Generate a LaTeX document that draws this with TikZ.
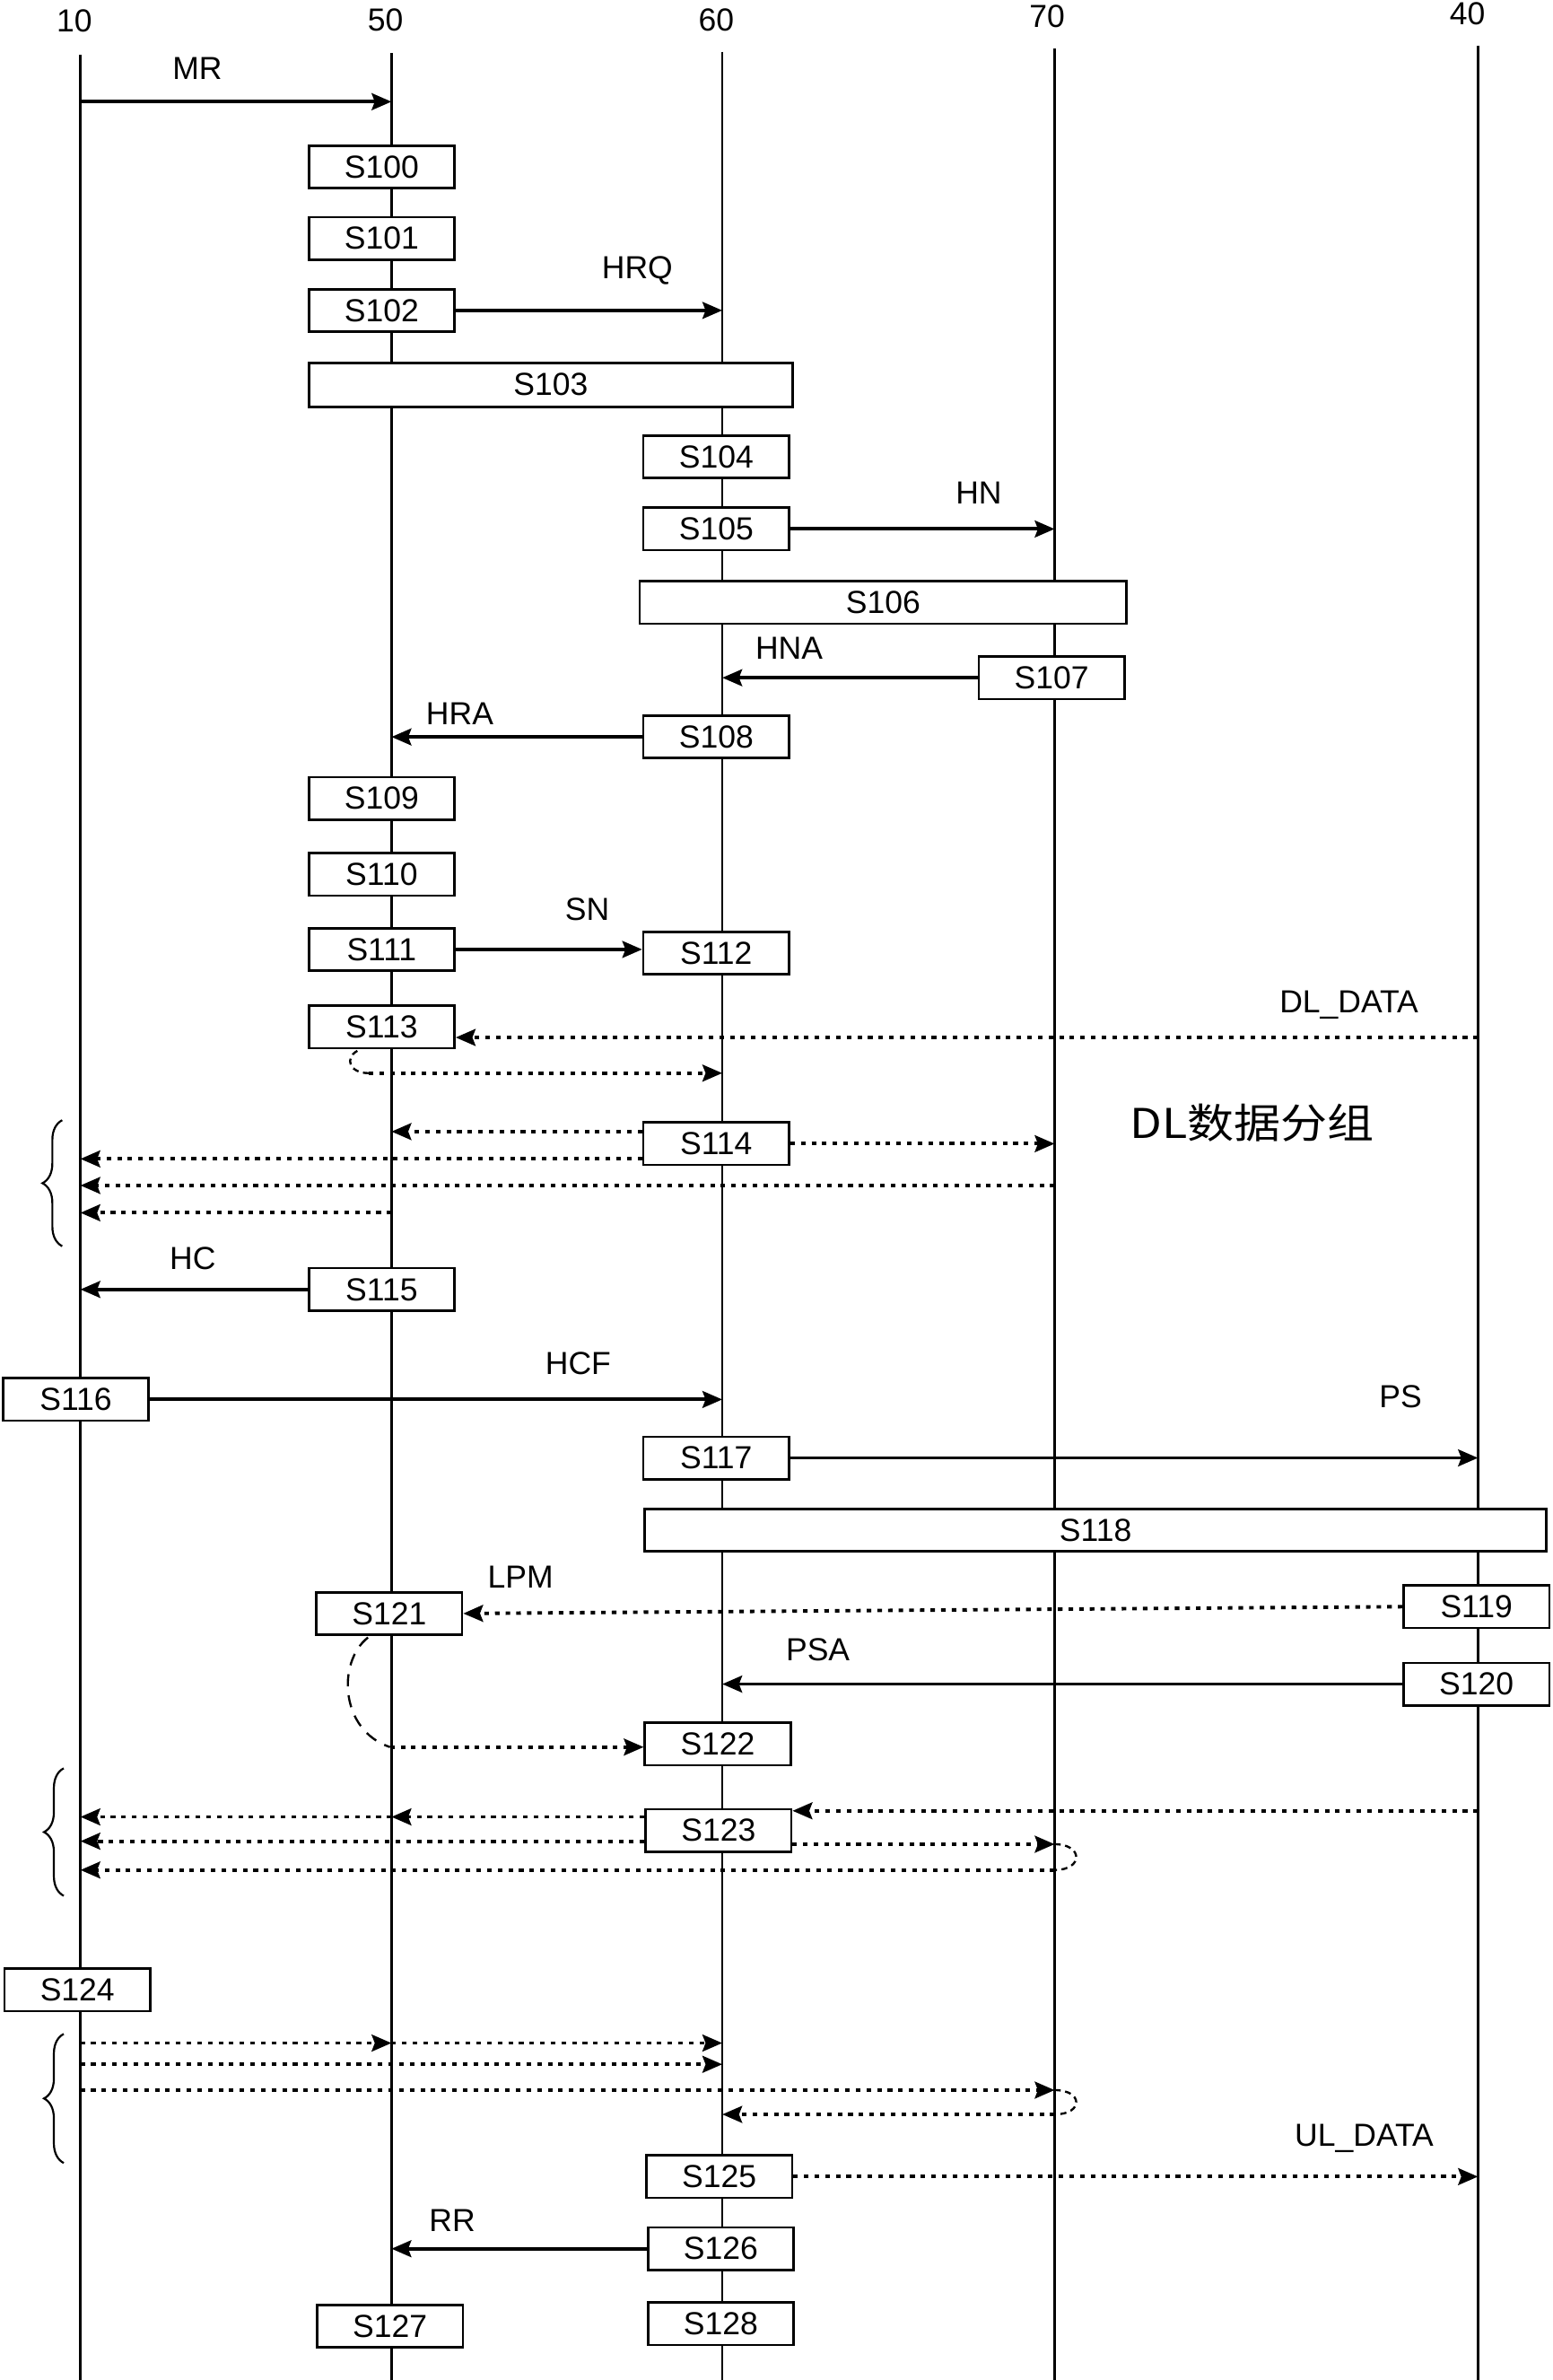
\documentclass[tikz,border=0pt]{standalone}
\usepackage{fontspec}
\setmainfont{Liberation Sans}
\newfontfamily\cjkfont{Noto Sans CJK SC}
\usetikzlibrary{arrows.meta,calc,decorations.pathreplacing}
\begin{document}
\begin{tikzpicture}[x=1pt,y=-1pt,
 life/.style={line width=1.4pt},
 box/.style={draw,line width=1.6pt,fill=white,inner sep=0pt,minimum width=96pt,minimum height=28pt,font=\fontsize{21}{24}\selectfont},
 lbl/.style={inner sep=0pt,font=\fontsize{21}{24}\selectfont},
 sarr/.style={line width=2.3pt,-{Stealth[length=13pt,width=11pt,inset=2pt]}},
 darr/.style={line width=2.3pt,dash pattern=on 3pt off 4pt,-{Stealth[length=13pt,width=11pt,inset=2pt]}},
 hook/.style={line width=1.4pt,dash pattern=on 4pt off 3pt},
 dashc/.style={line width=1.4pt,dash pattern=on 8pt off 6pt},
 brc/.style={decorate,decoration={brace,amplitude=13pt},line width=1.3pt}
]
\fill[white] (0,0) rectangle (1023,1568);
\useasboundingbox (0,0) rectangle (1023,1568);

% lifelines
\coordinate (L10) at (53,36);  \coordinate (L10b) at (53,1568);
\coordinate (L50) at (258,35); \coordinate (L50b) at (258,1568);
\coordinate (L60) at (476,34); \coordinate (L60b) at (476,1568);
\coordinate (L70) at (695,32); \coordinate (L70b) at (695,1568);
\coordinate (L40) at (974,30); \coordinate (L40b) at (974,1568);
\foreach \l in {L10,L50,L60,L70,L40} \draw[life] (\l) -- (\l b);

% header labels
\node[lbl] (h10) at (49,13.5) {10};
\node[lbl] (h50) at (254,13) {50};
\node[lbl] (h60) at (472,13) {60};
\node[lbl] (h70) at (690,11) {70};
\node[lbl] (h40) at (967,9) {40};

% boxes
\node[box] (S100) at (251.5,110) {S100};
\node[box] (S101) at (251.5,157) {S101};
\node[box] (S102) at (251.5,204.5) {S102};
\node[box,minimum width=319pt,minimum height=29pt] (S103) at (363,253.5) {S103};
\node[box] (S104) at (472,301) {S104};
\node[box] (S105) at (472,348.5) {S105};
\node[box,minimum width=321pt] (S106) at (582,397) {S106};
\node[box] (S107) at (693,446.5) {S107};
\node[box] (S108) at (472,485.5) {S108};
\node[box] (S109) at (251.5,526) {S109};
\node[box] (S110) at (251.5,576) {S110};
\node[box] (S111) at (251.5,625.5) {S111};
\node[box] (S112) at (472,628) {S112};
\node[box] (S113) at (251.5,676.5) {S113};
\node[box] (S114) at (472,753.5) {S114};
\node[box] (S115) at (251.5,849.5) {S115};
\node[box] (S116) at (50,922) {S116};
\node[box] (S117) at (472,960.5) {S117};
\node[box,minimum width=594pt] (S118) at (722,1008) {S118};
\node[box] (S119) at (973,1058.5) {S119};
\node[box] (S120) at (973,1109.5) {S120};
\node[box] (S121) at (256.5,1063) {S121};
\node[box] (S122) at (473,1149) {S122};
\node[box] (S123) at (473.5,1206) {S123};
\node[box] (S124) at (51,1311) {S124};
\node[box] (S125) at (474,1434) {S125};
\node[box] (S126) at (475,1481.5) {S126};
\node[box] (S127) at (257,1532.5) {S127};
\node[box] (S128) at (475,1531) {S128};

% labels
\node[lbl] (tMR) at (130,45) {MR};
\node[lbl] (tHRQ) at (420,178) {HRQ};
\node[lbl] (tHN) at (645,325) {HN};
\node[lbl] (tHNA) at (520,427) {HNA};
\node[lbl] (tHRA) at (303,470) {HRA};
\node[lbl] (tSN) at (387,599) {SN};
\node[lbl] (tDL) at (889,662) {DL\_DATA};
\node[inner sep=0pt] (tDLP) at (825,740) {\scalebox{1.14}[1]{\cjkfont\fontsize{27}{30}\selectfont DL数据分组}};
\node[lbl] (tHC) at (127,829) {HC};
\node[lbl] (tHCF) at (381,898) {HCF};
\node[lbl] (tPS) at (923,920) {PS};
\node[lbl] (tLPM) at (343,1039) {LPM};
\node[lbl] (tPSA) at (539,1087) {PSA};
\node[lbl] (tUL) at (899,1409) {UL\_DATA};
\node[lbl] (tRR) at (298,1463) {RR};

% solid messages
\coordinate (mr) at (53,67);
\draw[sarr] (mr) -- (mr -| L50);
\draw[sarr] (S102.east) -- (S102.east -| L60);
\draw[sarr] (S105.east) -- (S105.east -| L70);
\draw[sarr] (S107.west) -- (S107.west -| L60);
\draw[sarr] (S108.west) -- (S108.west -| L50);
\draw[sarr] (S111.east) -- (S111.east -| S112.west);
\draw[sarr] (S115.west) -- (S115.west -| L10);
\draw[sarr] (S116.east) -- (S116.east -| L60);
\draw[sarr] (S117.east) -- (S117.east -| L40);
\draw[sarr] (S120.west) -- (S120.west -| L60);
\draw[sarr] (S126.west) -- (S126.west -| L50);

% DL data
\coordinate (d1) at ($(S113.east)+(0,7)$);
\draw[darr] (d1 -| L40) -- (d1);
\coordinate (h1) at (243,707);
\draw[hook] ($(S113.south)+(-16,1)$) .. controls (227,697) and (230,707) .. (h1);
\draw[darr] (h1) -- (h1 -| L60);

% S114 group
\coordinate (a1) at ($(S114.west)+(0,-8)$);
\draw[darr] (a1) -- (a1 -| L50);
\draw[darr] (S114.east) -- (S114.east -| L70);
\coordinate (a2) at ($(S114.west)+(0,10)$);
\draw[darr] (a2) -- (a2 -| L10);
\coordinate (a3) at (695,781);
\draw[darr] (a3) -- (a3 -| L10);
\coordinate (a4) at (258,799);
\draw[darr] (a4) -- (a4 -| L10);
\draw[brc] (41,821) -- (41,738);

% S119 -> S121, S121 -> S122
\draw[darr] (S119.west) -- (S121.east);
\coordinate (c5) at (257,1151);
\draw[dashc] ($(S121.south)+(-14,1)$) .. controls (222,1095) and (224,1140) .. (c5);
\draw[darr] (c5) -- (c5 -| S122.west);

% S123 group
\coordinate (b1) at ($(S123.east)+(0,-13)$);
\draw[darr] (b1 -| L40) -- (b1);
\coordinate (b2) at ($(S123.west)+(0,-9)$);
\draw[darr] (b2) -- (b2 -| L50);
\draw[darr] (b2 -| L50) -- (b2 -| L10);
\coordinate (b3) at ($(S123.west)+(0,7)$);
\draw[darr] (b3) -- (b3 -| L10);
\coordinate (b4) at ($(S123.east)+(0,9)$);
\draw[darr] (b4) -- (b4 -| L70);
\coordinate (b5) at (695,1232);
\draw[hook] (b4 -| L70) .. controls +(19,0) and +(19,0) .. (b5);
\draw[darr] (b5) -- (b5 -| L10);
\draw[brc] (42,1249) -- (42,1165);

% S124 group
\coordinate (c1) at (53,1346);
\draw[darr] (c1) -- (c1 -| L50);
\draw[darr] (c1 -| L50) -- (c1 -| L60);
\coordinate (c2) at (53,1360);
\draw[darr] (c2) -- (c2 -| L60);
\coordinate (c3) at (53,1377);
\draw[darr] (c3) -- (c3 -| L70);
\coordinate (c4) at (695,1393);
\draw[hook] (c3 -| L70) .. controls +(19,0) and +(19,0) .. (c4);
\draw[darr] (c4) -- (c4 -| L60);
\draw[brc] (42,1425) -- (42,1340);

% UL data
\draw[darr] (S125.east) -- (S125.east -| L40);
\end{tikzpicture}
\end{document}
